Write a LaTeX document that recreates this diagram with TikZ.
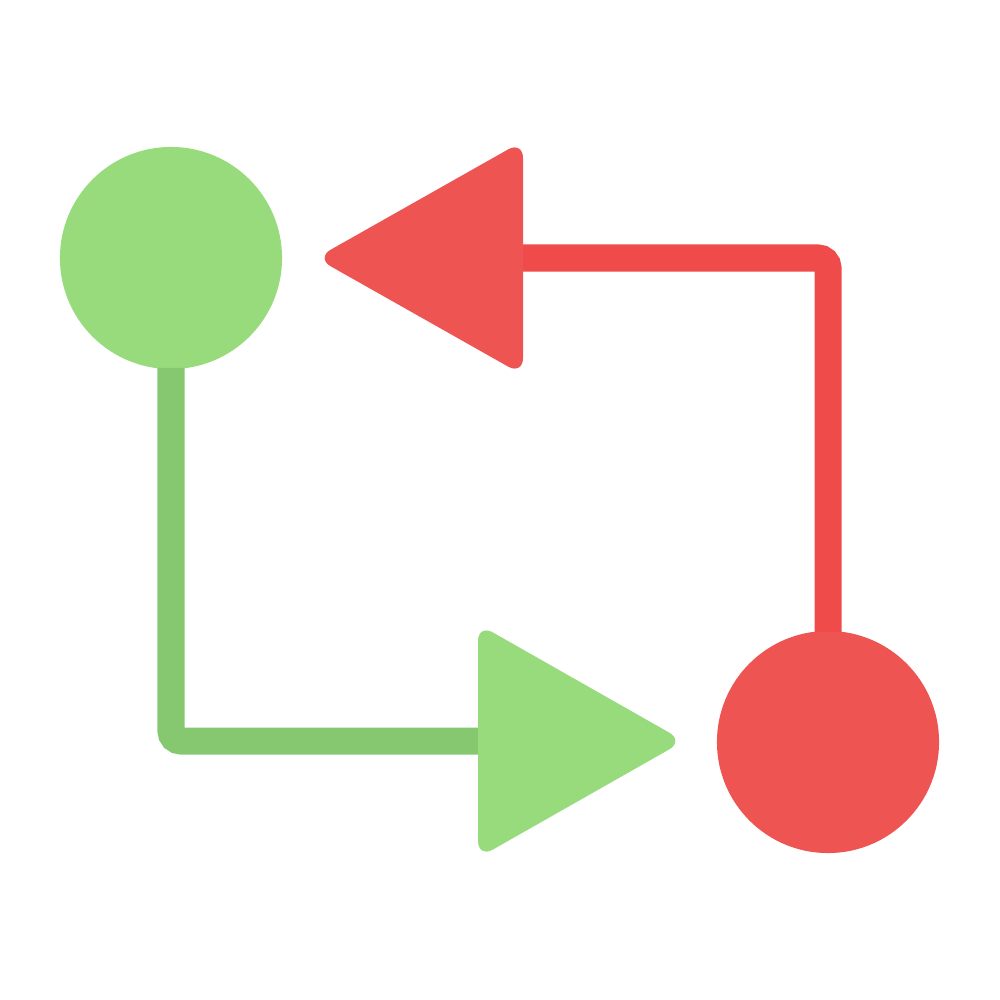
\documentclass[tikz,border=0pt]{standalone}
\begin{document}
\begin{tikzpicture}[x=0.01cm,y=-0.01cm,
  gfill/.style={fill={rgb,255:red,151;green,219;blue,124}},
  rfill/.style={fill={rgb,255:red,238;green,84;blue,82}},
  dot/.style={circle,inner sep=0pt,minimum size=2.22cm},
  gline/.style={draw={rgb,255:red,134;green,200;blue,111},line width=0.27cm,rounded corners=0.1cm},
  rline/.style={draw={rgb,255:red,239;green,75;blue,75},line width=0.27cm,rounded corners=0.1cm},
  tri/.style={rounded corners=0.17cm}]
\useasboundingbox[fill=white] (0,0) rectangle (1000,1000);
\node[dot,gfill] (g) at (171,258) {};
\node[dot,rfill] (r) at (828,742) {};
\coordinate (gt) at (495,741);
\coordinate (rt) at (505,258);
\draw[gline] ([yshift=0.02cm]g.south) |- (gt);
\draw[rline] ([yshift=-0.02cm]r.north) |- (rt);
\fill[gfill,tri] (478,624) -- (684,741) -- (478,858) -- cycle;
\fill[rfill,tri] (523,141) -- (316,258) -- (523,375) -- cycle;
\end{tikzpicture}
\end{document}
